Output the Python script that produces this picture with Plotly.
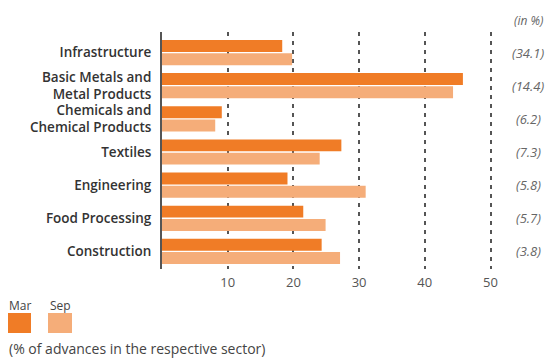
import plotly.graph_objects as go

categories = ["Infrastructure", "Basic Metals and<br>Metal Products", "Chemicals and<br>Chemical Products",
              "Textiles", "Engineering", "Food Processing", "Construction"]
mar_values = [18.3, 45.8, 9.1, 27.3, 19.1, 21.5, 24.3]
sep_values = [19.8, 44.3, 8.1, 24.0, 31.0, 24.9, 27.1]
sector_shares = ["(34.1)", "(14.4)", "(6.2)", "(7.3)", "(5.8)", "(5.7)", "(3.8)"]
x_ticks = [10, 20, 30, 40, 50]

MAR_COLOR = "#F07C26"
SEP_COLOR = "#F5AD79"
FONT = "Open Sans"

fig = go.Figure()
fig.add_trace(go.Bar(y=categories, x=mar_values, orientation="h", name="Mar",
                     marker=dict(color=MAR_COLOR, line=dict(width=0))))
fig.add_trace(go.Bar(y=categories, x=sep_values, orientation="h", name="Sep",
                     marker=dict(color=SEP_COLOR, line=dict(width=0))))

W, H = 556, 359
L, R, T, B = 162, 503, 32, 269


def px_x(p):
    return (p - L) / (R - L)


def px_y(p):
    return (B - p) / (B - T)


annotations = []
for cat, s in zip(categories, sector_shares):
    annotations.append(dict(x=px_x(528), xref="paper", y=cat, yref="y", text="<i>" + s + "</i>",
                            showarrow=False, xanchor="center", yanchor="middle",
                            font=dict(family=FONT, size=13, color="#666")))
annotations.append(dict(x=px_x(528), xref="paper", y=px_y(20.7), yref="paper", text="<i>(in %)</i>",
                        showarrow=False, xanchor="center", yanchor="middle",
                        font=dict(family=FONT, size=12, color="#666")))
# legend
annotations.append(dict(x=px_x(20), xref="paper", y=px_y(305), yref="paper", text="Mar",
                        showarrow=False, xanchor="center", yanchor="middle",
                        font=dict(family=FONT, size=12, color="#444")))
annotations.append(dict(x=px_x(60), xref="paper", y=px_y(305), yref="paper", text="Sep",
                        showarrow=False, xanchor="center", yanchor="middle",
                        font=dict(family=FONT, size=12, color="#444")))
annotations.append(dict(x=px_x(7), xref="paper", y=px_y(349), yref="paper",
                        text="(% of advances in the respective sector)",
                        showarrow=False, xanchor="left", yanchor="middle",
                        font=dict(family=FONT, size=14, color="#444")))

shapes = [
    dict(type="rect", xref="paper", yref="paper", x0=px_x(8), x1=px_x(31), y0=px_y(313), y1=px_y(333),
         fillcolor=MAR_COLOR, line=dict(width=0)),
    dict(type="rect", xref="paper", yref="paper", x0=px_x(48), x1=px_x(72), y0=px_y(313), y1=px_y(333),
         fillcolor=SEP_COLOR, line=dict(width=0)),
]

fig.update_layout(
    width=W, height=H,
    margin=dict(l=L, r=W - R, t=T, b=H - B, pad=0, autoexpand=False),
    barmode="group", bargap=0.2, bargroupgap=0.1,
    plot_bgcolor="white", paper_bgcolor="white",
    showlegend=False,
    annotations=annotations, shapes=shapes,
    xaxis=dict(range=[0, (R - L) / 6.57], tickvals=x_ticks, showgrid=True, gridcolor="#555",
               griddash="4px,5px", gridwidth=1.5, zeroline=False, showline=False, ticks="",
               automargin=False,
               tickfont=dict(family=FONT, size=13, color="#555"), ticklabelstandoff=4),
    yaxis=dict(categoryorder="array", categoryarray=categories,
               range=[6.53, -0.62], showline=True, linecolor="#555", linewidth=2,
               showgrid=False, zeroline=False, ticks="", automargin=False,
               tickfont=dict(family=FONT, size=13.5, color="#333", weight=600), ticklabelstandoff=6),
)

fig.write_html("out.html", config={"displayModeBar": False},
               post_script="document.body.style.margin='0';")
